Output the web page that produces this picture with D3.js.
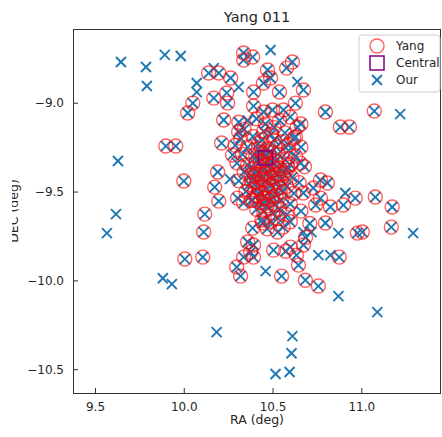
<!DOCTYPE html>
<html>
<head>
<meta charset="utf-8">
<title>Yang 011</title>
<style type="text/css">
body { margin:0; background:#fff; }
text { font-family: "DejaVu Sans", sans-serif; fill:#262626; }
.yang { fill:none; stroke:#ff0000; stroke-opacity:0.62; stroke-width:1.4; }
.our line { stroke:#1f77b4; stroke-width:1.9; }
.central { fill:none; stroke:#800080; stroke-width:1.5; }
.frame { fill:none; stroke:#333; stroke-width:1; }
</style>
</head>
<body>
<div id="chart"></div>
<script src="https://cdn.jsdelivr.net/npm/d3@7"></script>
<script type="text/javascript">

// Yang members (RA, DEC in deg)
var yang = [
	[10.337,-8.720],[10.388,-8.743],[10.337,-8.760],[10.140,-8.833],[10.197,-8.833],[10.264,-8.861],
	[10.393,-8.940],[10.242,-8.945],[10.169,-8.974],[10.247,-9.002],[10.051,-9.002],[10.022,-9.058],
	[10.225,-9.097],[10.393,-9.019],[10.309,-9.165],[9.899,-9.244],[9.955,-9.244],[10.213,-9.227],
	[10.275,-9.294],[10.191,-9.390],[10.000,-9.441],[10.174,-9.475],[10.197,-9.554],[10.303,-9.537],
	[10.612,-8.771],[10.579,-8.805],[10.472,-8.816],[10.489,-8.861],[10.449,-8.889],[10.539,-8.940],
	[10.674,-8.928],[10.798,-9.052],[11.073,-9.047],[10.882,-9.137],[10.933,-9.137],[10.629,-9.002],
	[10.562,-9.041],[10.500,-9.041],[10.449,-9.052],[10.640,-9.137],[10.657,-9.340],[10.584,-9.362],
	[10.770,-9.435],[10.809,-9.452],[10.674,-9.508],[10.770,-9.537],[10.966,-9.537],[11.079,-9.531],
	[11.174,-9.587],[10.590,-9.238],[10.629,-9.193],[11.169,-9.700],[10.978,-9.734],[11.006,-9.728],
	[10.899,-9.576],[10.798,-9.677],[10.826,-9.587],[10.876,-9.869],[10.685,-9.999],[10.758,-10.032],
	[10.551,-9.976],[10.506,-9.830],[10.601,-9.813],[10.674,-9.801],[10.646,-9.914],[10.528,-9.728],
	[10.393,-9.869],[10.118,-9.627],[10.112,-9.728],[10.006,-9.880],[10.107,-9.869],[10.388,-9.706],
	[10.360,-9.784],[10.376,-9.841],[10.298,-9.925],[10.320,-9.976],[10.337,-9.565],[10.388,-9.548],
	[10.449,-9.537],[10.444,-9.677],[10.393,-9.801],[10.337,-9.869],[10.710,-9.680],[10.574,-9.836],
	[10.635,-9.858],[10.686,-9.758],[10.743,-9.576],[10.730,-9.480],
	// dense core
	[10.31,-9.11],[10.41,-9.09],[10.46,-9.12],[10.54,-9.10],[10.60,-9.08],[10.66,-9.12],
	[10.34,-9.15],[10.45,-9.16],[10.51,-9.14],[10.57,-9.17],
	[10.32,-9.20],[10.39,-9.19],[10.44,-9.21],[10.49,-9.18],[10.55,-9.22],[10.62,-9.20],
	[10.29,-9.24],[10.36,-9.25],[10.42,-9.23],[10.47,-9.26],[10.52,-9.25],[10.59,-9.27],[10.66,-9.25],
	[10.33,-9.29],[10.39,-9.30],[10.44,-9.28],[10.48,-9.31],[10.53,-9.29],[10.57,-9.32],[10.63,-9.30],
	[10.30,-9.34],[10.36,-9.35],[10.41,-9.33],[10.45,-9.36],[10.50,-9.34],[10.54,-9.37],[10.60,-9.35],[10.68,-9.36],
	[10.34,-9.39],[10.38,-9.41],[10.43,-9.40],[10.47,-9.39],[10.51,-9.42],[10.56,-9.40],[10.61,-9.42],
	[10.31,-9.44],[10.37,-9.46],[10.41,-9.45],[10.46,-9.44],[10.49,-9.47],[10.53,-9.45],[10.58,-9.47],[10.65,-9.45],
	[10.35,-9.50],[10.40,-9.49],[10.44,-9.51],[10.48,-9.50],[10.52,-9.52],[10.56,-9.50],[10.62,-9.51],
	[10.38,-9.55],[10.43,-9.56],[10.47,-9.54],[10.51,-9.57],[10.55,-9.55],[10.60,-9.57],
	[10.41,-9.60],[10.45,-9.61],[10.50,-9.62],[10.54,-9.60],[10.58,-9.63],[10.66,-9.61],
	[10.44,-9.66],[10.49,-9.67],[10.53,-9.65],[10.60,-9.67],
	[10.47,-9.71],[10.56,-9.70],[10.42,-9.48],[10.46,-9.40],[10.50,-9.38],[10.45,-9.30],
	[10.43,-9.33],[10.47,-9.35],[10.52,-9.33],[10.49,-9.42],[10.44,-9.43],[10.54,-9.48],
	[10.39,-9.37],[10.48,-9.28],[10.53,-9.40],[10.46,-9.48],[10.41,-9.52],[10.50,-9.53],
	[10.45,-9.57],[10.55,-9.43],[10.42,-9.26],[10.51,-9.21],[10.38,-9.44],[10.58,-9.38],
	[10.47,-9.58],[10.40,-9.40]
];

// Our members that have no Yang counterpart
var ourOnly = [
	[10.073,-8.889],[10.073,-8.940],[10.169,-8.805],[10.309,-8.912],[10.489,-8.703],[10.640,-8.883],
	[11.219,-9.064],[10.910,-9.508],[10.871,-9.734],[11.292,-9.734],[10.461,-9.948],[10.871,-10.089],
	[11.090,-10.179],[10.612,-10.314],[10.607,-10.410],[10.596,-10.516],[10.517,-10.527],[10.185,-10.291],
	[9.882,-9.988],[9.933,-10.021],[9.567,-9.734],[9.618,-9.627],[9.629,-9.328],[9.646,-8.771],
	[9.787,-8.799],[9.792,-8.906],[9.893,-8.731],[9.983,-8.737],[10.758,-9.858],[10.826,-9.858],
	[10.719,-9.728],[10.674,-9.728],[10.26,-9.43],[10.36,-9.10]
];

var our = yang.concat(ourOnly);

var central = [[10.46,-9.311]];

var xTicks = [9.5, 10.0, 10.5, 11.0];
var yTicks = [-9.0, -9.5, -10.0, -10.5];
var xDomain = [9.376, 11.449];
var yDomain = [-10.634, -8.585];

var width = 442, height = 437;
var plot = {left:73, right:441, top:29, bottom:393};

var x = d3.scaleLinear().domain(xDomain).range([plot.left, plot.right]);
var y = d3.scaleLinear().domain(yDomain).range([plot.bottom, plot.top]);

var svg = d3.select("#chart").append("svg")
	.attr("width", width)
	.attr("height", height);

svg.append("defs").append("clipPath")
	.attr("id", "clip")
	.append("rect")
	.attr("x", plot.left).attr("y", plot.top)
	.attr("width", plot.right - plot.left).attr("height", plot.bottom - plot.top);

var marks = svg.append("g").attr("clip-path", "url(#clip)");

function drawX(sel, s) {
	sel.append("line").attr("x1", -s).attr("y1", -s).attr("x2", s).attr("y2", s);
	sel.append("line").attr("x1", -s).attr("y1", s).attr("x2", s).attr("y2", -s);
}

var ourG = marks.selectAll(".our")
	.data(our)
	.enter().append("g")
	.attr("class", "our")
	.attr("transform", function(d){ return "translate(" + x(d[0]) + "," + y(d[1]) + ")"; });
drawX(ourG, 5);

marks.selectAll(".yang")
	.data(yang)
	.enter().append("circle")
	.attr("class", "yang")
	.attr("cx", function(d){ return x(d[0]); })
	.attr("cy", function(d){ return y(d[1]); })
	.attr("r", 7);

marks.selectAll(".central")
	.data(central)
	.enter().append("rect")
	.attr("class", "central")
	.attr("x", function(d){ return x(d[0]) - 7; })
	.attr("y", function(d){ return y(d[1]) - 7; })
	.attr("width", 14)
	.attr("height", 14);

// axes, ticks pointing inward
var xAxis = svg.append("g")
	.attr("transform", "translate(0," + plot.bottom + ")")
	.call(d3.axisBottom(x).tickValues(xTicks).tickFormat(d3.format(".1f")).tickSizeInner(-5).tickSizeOuter(0).tickPadding(9));

var yAxis = svg.append("g")
	.attr("transform", "translate(" + plot.left + ",0)")
	.call(d3.axisLeft(y).tickValues(yTicks).tickFormat(function(d){ return d3.format(".1f")(d).replace("-", "\u2212"); }).tickSizeInner(-5).tickSizeOuter(0).tickPadding(9));

[xAxis, yAxis].forEach(function(a){
	a.select(".domain").remove();
	a.selectAll("text").style("font-size", "12px").style("fill", "#262626");
	a.selectAll(".tick line").attr("stroke", "#333");
});

svg.append("rect")
	.attr("class", "frame")
	.attr("x", plot.left + 0.5)
	.attr("y", plot.top + 0.5)
	.attr("width", plot.right - plot.left - 1)
	.attr("height", plot.bottom - plot.top);

svg.append("text")
	.attr("x", (plot.left + plot.right) / 2)
	.attr("y", 22)
	.attr("text-anchor", "middle")
	.style("font-size", "14.5px")
	.text("Yang 011");

svg.append("text")
	.attr("x", (plot.left + plot.right) / 2)
	.attr("y", 424)
	.attr("text-anchor", "middle")
	.style("font-size", "12.5px")
	.text("RA (deg)");

svg.append("text")
	.attr("transform", "translate(18," + ((plot.top + plot.bottom) / 2) + ") rotate(-90)")
	.attr("text-anchor", "middle")
	.style("font-size", "12.5px")
	.text("DEC (deg)");

// the left edge of the figure is cropped
svg.append("rect").attr("x", 0).attr("y", 0).attr("width", 12).attr("height", height).attr("fill", "#fff");

// legend
var legendItems = ["Yang", "Central", "Our"];
var legend = svg.append("g").attr("transform", "translate(359,35)");

legend.append("rect")
	.attr("width", 81)
	.attr("height", 57)
	.attr("rx", 3)
	.attr("fill", "#fff")
	.attr("fill-opacity", 0.8)
	.attr("stroke", "#ccc");

var li = legend.selectAll(".li")
	.data(legendItems)
	.enter().append("g")
	.attr("class", "li")
	.attr("transform", function(d, i){ return "translate(18," + (11 + i * 17) + ")"; });

li.filter(function(d){ return d == "Yang"; }).append("circle").attr("class", "yang").attr("r", 7);
li.filter(function(d){ return d == "Central"; }).append("rect").attr("class", "central")
	.attr("x", -7).attr("y", -7).attr("width", 14).attr("height", 14);
drawX(li.filter(function(d){ return d == "Our"; }).attr("class", "li our"), 5);

li.append("text")
	.attr("x", 19)
	.attr("dy", "0.35em")
	.style("font-size", "12px")
	.text(String);

</script>
</body>
</html>
